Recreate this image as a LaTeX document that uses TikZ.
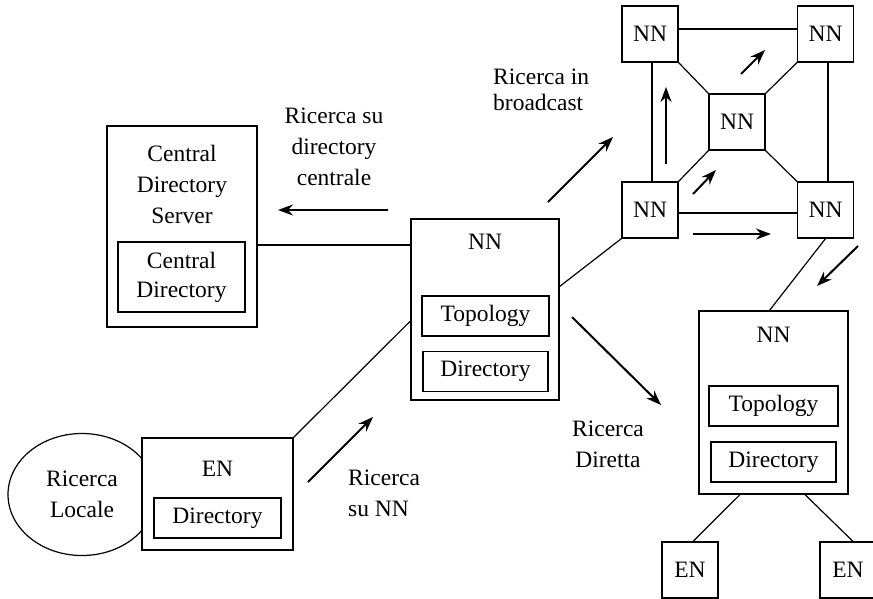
\documentclass[tikz,border=0pt]{standalone}
\usepackage{fontspec}
\setmainfont{Liberation Serif}
\usetikzlibrary{arrows.meta,shapes.geometric}

\tikzset{
  box/.style={draw, line width=1.2pt, fill=white, inner sep=0pt},
  nnbox/.style={box, minimum width=56pt, minimum height=56pt},
  inbox/.style={box, minimum width=127pt, minimum height=40pt},
  lbl/.style={inner sep=0pt, align=center},
  link/.style={line width=1.2pt},
  flow/.style={line width=2pt, -{Stealth[length=15pt,width=11pt]}}
}

\begin{document}
\begin{tikzpicture}[x=1pt, y=-1pt, font=\fontsize{23.5}{31}\selectfont]
\path[use as bounding box, clip] (0,0) rectangle (873,598);

% central directory server
\node[box, minimum width=150pt, minimum height=201pt] (cds) at (182,226.5) {};
\node[lbl] (cdstext) at (182,184.5) {Central\\Directory\\Server};
\node[inbox, minimum height=70pt, align=center] (cd) at (181.5,277) {Central\\[-2pt]Directory};

% central NN
\node[box, minimum width=148pt, minimum height=181pt] (nnc) at (485,309.5) {};
\node[lbl] (nnctext) at (485,242) {NN};
\node[inbox] (nnctopo) at (485.5,316) {Topology};
\node[inbox, minimum width=125pt] (nncdir) at (485.5,371.5) {Directory};

% EN with local search
\node[draw, line width=1.2pt, ellipse, minimum width=148pt, minimum height=122pt, align=center, inner sep=0pt] (loc) at (82,494.5) {Ricerca\\Locale};
\node[box, minimum width=151pt, minimum height=112pt] (en) at (217.5,494) {};
\node[lbl] (entext) at (217.5,469) {EN};
\node[inbox] (endir) at (217.5,518) {Directory};

% NN mesh
\node[nnbox] (tl) at (650,34) {NN};
\node[nnbox] (tr) at (825.5,34) {NN};
\node[nnbox] (mc) at (737,122) {NN};
\node[nnbox] (bl) at (650,210) {NN};
\node[nnbox] (br) at (825.5,210) {NN};

% right NN
\node[box, minimum width=149pt, minimum height=183pt] (nnr) at (773.5,402.5) {};
\node[lbl] (nnrtext) at (773.5,335) {NN};
\node[inbox, minimum width=129pt] (nnrtopo) at (773.5,406) {Topology};
\node[inbox, minimum width=125pt] (nnrdir) at (773.5,462) {Directory};
\node[nnbox] (enl) at (690,570) {EN};
\node[nnbox] (enr) at (848,570) {EN};

% links
\draw[link] ([yshift=-18.5pt]cds.east) -- ([yshift=-18.5pt]cds.east -| nnc.west);
\draw[link] (en.north east) -- ([yshift=-11.5pt]nnc.west);
\draw[link] ([yshift=23pt]nnc.east) -- (bl.south west);
\draw[link] ([yshift=5pt]tl.east) -- ([yshift=5pt]tr.west);
\draw[link] ([yshift=-3pt]bl.east) -- ([yshift=-3pt]br.west);
\draw[link] ([xshift=2pt]tl.south) -- ([xshift=2pt]bl.north);
\draw[link] ([xshift=2.5pt]tr.south) -- ([xshift=2.5pt]br.north);
\draw[link] (tl.south east) -- (mc.north west);
\draw[link] (tr.south west) -- (mc.north east);
\draw[link] (bl.north east) -- (mc.south west);
\draw[link] (br.north west) -- (mc.south east);
\draw[link] (br.south) -- ([xshift=-4pt]nnr.north);
\draw[link] ([xshift=-33.5pt]nnr.south) -- ([xshift=3pt]enl.north);
\draw[link] ([xshift=31.5pt]nnr.south) -- ([xshift=5pt]enr.north);

% searches
\draw[flow] (388,210) -- (278,210);
\node[lbl] (lcentral) at (334,146.5) {Ricerca su\\directory\\centrale};
\draw[flow] (308,482) -- (373,417);
\node[lbl, align=left, anchor=west] (lsunn) at (348,493) {Ricerca\\su NN};
\draw[flow] (572,317) -- (661,405);
\node[lbl] (ldiretta) at (608,444.5) {Ricerca\\Diretta};
\draw[flow] (548,202) -- (613,137);
\node[lbl, align=left, anchor=west] (lbroad) at (493,90) {Ricerca in\\[-5pt]broadcast};
\draw[flow] (666,164) -- (666,87);
\draw[flow] (693,194) -- (716,170);
\draw[flow] (741,74) -- (765,50);
\draw[flow] (693,234) -- (771,234);
\draw[flow] (858,246) -- (817,286);
\end{tikzpicture}
\end{document}
